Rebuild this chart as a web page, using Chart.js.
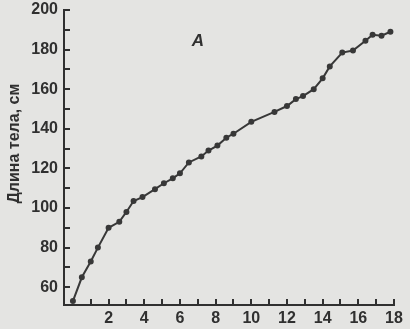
<!DOCTYPE html>
<html>
<head>
<meta charset="utf-8">
<script src="https://cdn.jsdelivr.net/npm/chart.js@4"></script>
<style>
    html, body { margin: 0; padding: 0; background: #e4e4e2; }
    #wrap { width: 410px; height: 329px; position: relative; }
</style>
</head>
<body>
<div id="wrap"><canvas id="growthChart"></canvas></div>
<script>
// age (years) and body length (cm)
const ages = [0, 0.5, 1, 1.4, 2, 2.6, 3, 3.4, 3.9, 4.6, 5.1, 5.6, 6, 6.5, 7.2, 7.6, 8.1, 8.6, 9,
    10, 11.3, 12, 12.5, 12.9, 13.5, 14, 14.4, 15.1, 15.7, 16.4, 16.8, 17.3, 17.8];
const lengths = [53, 65, 73, 80, 90, 93, 98, 103.5, 105.5, 109.5, 112.5, 115, 117.5, 123, 126, 129, 131.5, 135.5, 137.5,
    143.5, 148.5, 151.5, 155, 156.5, 160, 165.5, 171.5, 178.5, 179.5, 184.5, 187.5, 187, 189];
const xTicks = [1, 2, 3, 4, 5, 6, 7, 8, 9, 10, 11, 12, 13, 14, 15, 16, 17, 18];
const yTicks = [60, 70, 80, 90, 100, 110, 120, 130, 140, 150, 160, 170, 180, 190, 200];
const yTitle = "Длина тела, см";
const panelLabel = "A";

const ink = "#303030";
const font = "'Liberation Sans', Arial, sans-serif";

// ticks in the figure point into the plot, so draw them here
const innerTicks = {
    id: "innerTicks",
    afterDraw(chart) {
        const ctx = chart.ctx;
        const area = chart.chartArea;
        const x = chart.scales.x, y = chart.scales.y;
        ctx.save();
        ctx.strokeStyle = ink;
        ctx.lineWidth = 2;
        ctx.beginPath();
        yTicks.forEach((v) => {
            const py = Math.round(y.getPixelForValue(v));
            ctx.moveTo(area.left, py);
            ctx.lineTo(area.left + 6, py);
        });
        xTicks.forEach((v) => {
            const px = Math.round(x.getPixelForValue(v));
            ctx.moveTo(px, area.bottom);
            ctx.lineTo(px, area.bottom - 6);
        });
        ctx.stroke();

        // axis title, sits a bit above the centre in the figure
        ctx.fillStyle = ink;
        ctx.font = "bold 16px " + font;
        ctx.textAlign = "center";
        ctx.textBaseline = "middle";
        ctx.translate(15, y.getPixelForValue(132.5));
        ctx.rotate(-Math.PI / 2);
        ctx.fillText(yTitle, 0, 0);
        ctx.restore();

        ctx.save();
        ctx.fillStyle = ink;
        ctx.font = "italic bold 17px " + font;
        ctx.textAlign = "center";
        ctx.textBaseline = "middle";
        ctx.fillText(panelLabel, x.getPixelForValue(7), y.getPixelForValue(184));
        ctx.restore();
    }
};

const ctx = document.getElementById("growthChart").getContext("2d");
new Chart(ctx, {
    type: "line",
    data: {
        datasets: [{
            data: ages.map((a, i) => ({ x: a, y: lengths[i] })),
            borderColor: "#383838",
            backgroundColor: "#383838",
            borderWidth: 2,
            pointRadius: 2,
            pointHoverRadius: 2,
            tension: 0,
        }],
    },
    options: {
        responsive: true,
        maintainAspectRatio: false,
        animation: false,
        layout: { padding: { left: 0, right: 16, top: 0, bottom: 0 } },
        plugins: {
            legend: { display: false },
            tooltip: { enabled: false },
        },
        scales: {
            x: {
                type: "linear",
                min: -0.5,
                max: 18,
                afterBuildTicks: (scale) => { scale.ticks = xTicks.map((v) => ({ value: v })); },
                afterFit: (scale) => { scale.height = 24; },
                grid: { display: false, drawTicks: false },
                border: { display: true, color: ink, width: 2 },
                ticks: {
                    padding: 4,
                    maxRotation: 0,
                    autoSkip: false,
                    color: ink,
                    font: { family: font, size: 16, weight: "bold" },
                    callback: (v) => (v % 2 === 0 ? v : ""),
                },
            },
            y: {
                min: 51,
                max: 200,
                afterBuildTicks: (scale) => { scale.ticks = yTicks.map((v) => ({ value: v })); },
                afterFit: (scale) => {
                    scale.width = 64;
                    scale.paddingTop = 10;
                    scale.paddingBottom = 0;
                },
                grid: { display: false, drawTicks: false },
                border: { display: true, color: ink, width: 2 },
                ticks: {
                    padding: 6,
                    autoSkip: false,
                    color: ink,
                    font: { family: font, size: 16, weight: "bold" },
                    callback: (v) => (v % 20 === 0 ? v : ""),
                },
            },
        },
    },
    plugins: [innerTicks],
});
</script>
</body>
</html>
